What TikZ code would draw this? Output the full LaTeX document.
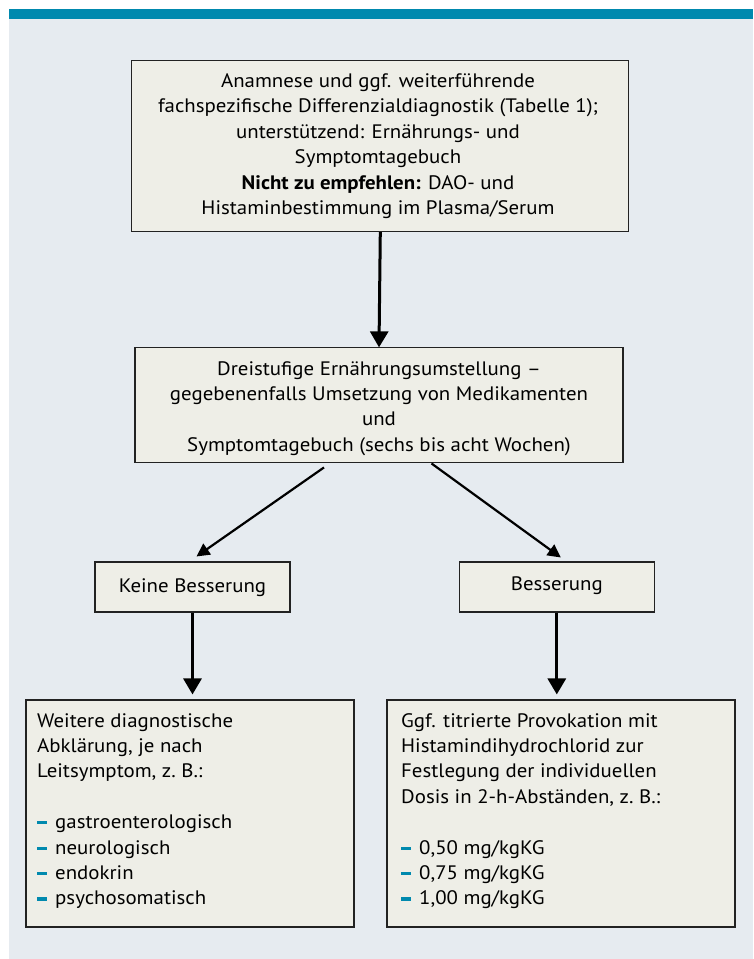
\documentclass[tikz,border=0pt]{standalone}
\usepackage{fontspec}
\setmainfont{PT Sans}[FakeStretch=1.07]
\usetikzlibrary{arrows.meta,calc}
\definecolor{barc}{HTML}{0089AE}
\definecolor{bgc}{HTML}{E6EBF0}
\definecolor{boxc}{HTML}{EEEEE7}
\definecolor{edgec}{HTML}{222222}
\newcommand\bul{{\color{barc}\rule[0.22em]{10pt}{3.2pt}}\hspace{8pt}}
\begin{document}
\begin{tikzpicture}[x=1pt,y=-1pt,
  box/.style={draw=edgec,fill=boxc,line width=1.1pt,inner sep=0pt,rectangle},
  txt/.style={font=\fontsize{19.5}{25.4}\selectfont,align=center,inner sep=0pt},
  ltxt/.style={font=\fontsize{19.5}{25.4}\selectfont,align=left,inner sep=0pt,anchor=north west},
  arrv/.style={line width=3pt,-{Triangle[width=18pt,length=16pt]}},
  arrd/.style={line width=2.2pt,-{Triangle[width=13pt,length=13pt]}}]
\useasboundingbox (0,0) rectangle (753,959);
\fill[white] (0,0) rectangle (753,959);
\fill[bgc] (9,19) rectangle (753,959);
\fill[barc] (9,9) rectangle (753,19);

\node[box,minimum width=497pt,minimum height=171pt] (top) at (380.3,146) {};
\node[txt] (toptxt) at (378,146.2) {Anamnese und ggf. weiterführende\\
fachspezifische Differenzialdiagnostik (Tabelle 1);\\
unterstützend: Ernährungs- und\\
Symptomtagebuch\\
\textbf{Nicht zu empfehlen:} DAO- und\\
Histaminbestimmung im Plasma/Serum};

\node[box,minimum width=488pt,minimum height=115pt] (mid) at (379,405.4) {};
\node[txt] (midtxt) at (379,408.5) {Dreistufige Ernährungsumstellung –\\
gegebenenfalls Umsetzung von Medikamenten\\
und\\
Symptomtagebuch (sechs bis acht Wochen)};

\node[box,minimum width=195pt,minimum height=50pt] (kb) at (192.5,587) {};
\node[txt] (kbtxt) at (192.5,587.5) {Keine Besserung};
\node[box,minimum width=195.5pt,minimum height=50pt] (bs) at (556.8,587) {};
\node[txt] (bstxt) at (556.8,585.5) {Besserung};

\node[box,minimum width=328pt,minimum height=227pt] (lbox) at (190,813.5) {};
\node[ltxt] (ltx) at (37,713) {Weitere diagnostische\\
Abklärung, je nach\\
Leitsymptom, z.~B.:\\[25.4pt]
\bul gastroenterologisch\\
\bul neurologisch\\
\bul endokrin\\
\bul psychosomatisch};

\node[box,minimum width=348pt,minimum height=227pt] (rbox) at (561,813.5) {};
\node[ltxt] (rtx) at (401,713) {Ggf. titrierte Provokation mit\\
Histamindihydrochlorid zur\\
Festlegung der individuellen\\
Dosis in 2-h-Abständen, z.~B.:\\[25.4pt]
\bul 0,50 mg/kgKG\\
\bul 0,75 mg/kgKG\\
\bul 1,00 mg/kgKG};

\draw[arrv] (top.south) -- (mid.north);
\draw[arrd] ([xshift=-55pt,yshift=-4pt]mid.south) -- ([xshift=4pt,yshift=5pt]kb.north);
\draw[arrd] ([xshift=52.5pt,yshift=0pt]mid.south) -- ([xshift=4pt,yshift=4pt]bs.north);
\draw[arrv,shorten >=5pt] (kb.south) -- (kb.south |- lbox.north);
\draw[arrv,shorten >=5pt] (bs.south) -- (bs.south |- rbox.north);
\end{tikzpicture}
\end{document}
